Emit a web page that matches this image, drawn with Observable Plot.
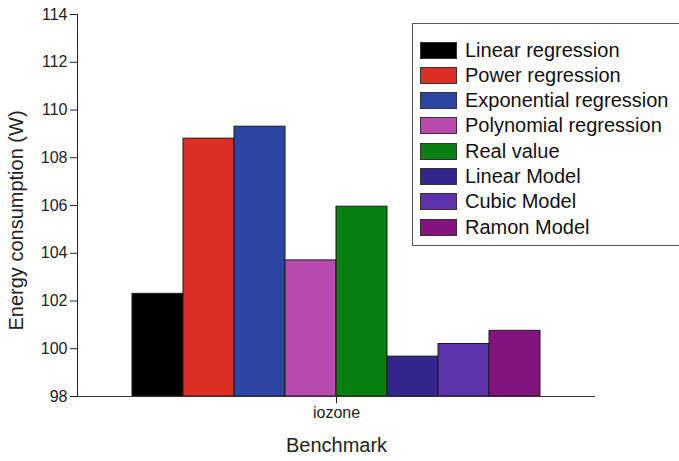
<!DOCTYPE html>
<html>
<head>
<meta charset="utf-8">
<script src="https://cdn.jsdelivr.net/npm/d3@7"></script>
<script src="https://cdn.jsdelivr.net/npm/@observablehq/plot@0.6"></script>
<style>
  html, body { margin: 0; padding: 0; background: #fff; }
  #wrap { position: relative; width: 679px; height: 461px; overflow: hidden; font-family: "Liberation Sans", Arial, sans-serif; }
  #legend { position: absolute; left: 412px; top: 23px; width: 290px; height: 223px; border: 1px solid #555; background: #fff; box-sizing: border-box; }
  .row { position: absolute; left: 7px; height: 18px; display: flex; align-items: center; }
  .sw { width: 37px; height: 17px; box-sizing: border-box; border: 1px solid #333; margin-right: 8px; }
  .lt { font-size: 20px; color: #111; white-space: nowrap; }
  svg [aria-label="fx-axis label"] text, svg [aria-label="fx-axis"] > text { font-size: 20px; }
  svg [aria-label="fx-axis tick label"] text { font-size: 16px; }
</style>
</head>
<body>
<div id="wrap"></div>
<script>
const benchmarks = ["iozone"];
const series = ["Linear regression", "Power regression", "Exponential regression", "Polynomial regression", "Real value", "Linear Model", "Cubic Model", "Ramon Model"];
const values = [102.3, 108.8, 109.3, 103.7, 105.95, 99.67, 100.2, 100.75];
const colors = ["#000000", "#dc2f24", "#2d45a2", "#ba4aae", "#0b8012", "#34268c", "#5c33aa", "#85137f"];
const yTicks = [98, 100, 102, 104, 106, 108, 110, 112, 114];
const yTitle = "Energy consumption (W)";
const xTitle = "Benchmark";

const data = series.map((s, i) => ({benchmark: benchmarks[0], series: s, value: values[i]}));

const chart = Plot.plot({
  width: 679,
  height: 461,
  marginLeft: 77,
  marginRight: 84,
  marginTop: 14,
  marginBottom: 65,
  style: {fontFamily: "Liberation Sans, Arial, sans-serif", fontSize: "16px", color: "#222", background: "transparent"},
  fx: {domain: benchmarks, padding: 0, label: xTitle, labelAnchor: "center", labelOffset: 55, tickSize: 7, tickPadding: 3},
  x: {domain: series, paddingInner: 0, paddingOuter: 1.0, axis: null},
  y: {domain: [98, 114], ticks: yTicks, tickSize: 7, tickPadding: 3, line: true, label: null},
  color: {domain: series, range: colors},
  marks: [
    Plot.barY(data, {fx: "benchmark", x: "series", y1: 98, y2: "value", fill: "series", stroke: "#1a1a1a", strokeWidth: 1}),
    Plot.ruleY([98], {stroke: "#333", strokeWidth: 1.2}),
    Plot.text([yTitle], {text: d => d, frameAnchor: "left", textAnchor: "middle", rotate: -90, dx: -61, dy: 15, fontSize: 20, fill: "#222"})
  ]
});

const wrap = document.getElementById("wrap");
wrap.appendChild(chart);

const legend = document.createElement("div");
legend.id = "legend";
series.forEach((s, i) => {
  const row = document.createElement("div");
  row.className = "row";
  row.style.top = (17 + i * 25.3) + "px";
  const sw = document.createElement("div");
  sw.className = "sw";
  sw.style.background = colors[i];
  const t = document.createElement("span");
  t.className = "lt";
  t.textContent = s;
  row.appendChild(sw);
  row.appendChild(t);
  legend.appendChild(row);
});
wrap.appendChild(legend);
</script>
</body>
</html>
